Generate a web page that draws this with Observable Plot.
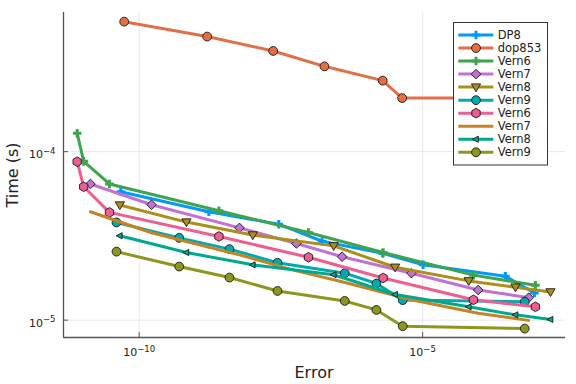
<!DOCTYPE html>
<html><head><meta charset="utf-8">
<script src="https://cdn.jsdelivr.net/npm/d3@7"></script>
<script src="https://cdn.jsdelivr.net/npm/@observablehq/plot@0.6"></script>
<style>body{margin:0;background:#fff}</style>
</head><body><div id="chart"></div>
<script>
// ---- data ----
const names  = ["DP8","dop853","Vern6","Vern7","Vern8","Vern9","Vern6","Vern7","Vern8","Vern9"];
const colors = ["#009AFA","#E36F47","#3EA44E","#C371D2","#AC8E18","#00AAAE","#ED5E93","#C68225","#00A98D","#8E971D"];
const markers = ["plus","circle","plus","diamond","tridown","circle","hexagon","none","trileft","circle"];

const errDP8    = [4.74e-11,1.69e-9,2.90e-8,1.69e-7,1.98e-6,1.02e-5,2.88e-4,9.38e-4];
const timeDP8   = [5.78e-5,4.40e-5,3.71e-5,2.94e-5,2.49e-5,2.13e-5,1.82e-5,1.45e-5];
const errDop853 = [5.44e-11,1.58e-9,2.31e-8,1.85e-7,1.98e-6,4.35e-6,2.88e-4];
const timeDop853= [5.91e-4,4.82e-4,3.96e-4,3.21e-4,2.64e-4,2.08e-4,2.08e-4];
const errVern6  = [8.06e-12,1.05e-11,2.99e-11,2.55e-9,9.68e-8,2.01e-6,7.87e-5,9.75e-4];
const timeVern6a= [1.284e-4,8.76e-5,6.43e-5,4.46e-5,3.31e-5,2.52e-5,1.85e-5,1.61e-5];
const timeVern6b= [8.72e-5,6.19e-5,4.36e-5,3.14e-5,2.36e-5,1.78e-5,1.32e-5,1.20e-5];
const errVern7  = [1.38e-11,1.65e-10,5.87e-9,5.94e-8,3.80e-7,6.34e-6,9.53e-5,7.43e-4];
const timeVern7a= [6.43e-5,4.84e-5,3.53e-5,2.85e-5,2.38e-5,1.90e-5,1.51e-5,1.36e-5];
const timeVern7b= [4.40e-5,3.30e-5,2.44e-5,1.96e-5,1.69e-5,1.32e-5,1.10e-5,9.97e-6];
const errVern8  = [4.55e-11,6.82e-10,1.01e-8,2.70e-7,3.27e-6,6.50e-5,4.34e-4,1.80e-3];
const timeVern8a= [4.82e-5,3.82e-5,3.20e-5,2.76e-5,2.06e-5,1.71e-5,1.57e-5,1.47e-5];
const timeVern8b= [3.17e-5,2.52e-5,2.13e-5,1.86e-5,1.42e-5,1.20e-5,1.075e-5,1.01e-5];
const errVern9  = [3.98e-11,5.08e-10,3.91e-9,2.75e-8,4.23e-7,1.53e-6,4.46e-6,6.33e-4];
const timeVern9a= [3.80e-5,3.08e-5,2.64e-5,2.19e-5,1.90e-5,1.65e-5,1.315e-5,1.285e-5];
const timeVern9b= [2.55e-5,2.08e-5,1.79e-5,1.49e-5,1.30e-5,1.15e-5,9.21e-6,8.91e-6];

const xTicks = [1e-10, 1e-5];
const yTicks = [1e-5, 1e-4];
const xDomain = [10**-11.335, 10**-2.48];
const yDomain = [10**-5.103, 10**-3.174];

const errs  = [errDP8,errDop853,errVern6,errVern7,errVern8,errVern9,errVern6,errVern7,errVern8,errVern9];
const times = [timeDP8,timeDop853,timeVern6a,timeVern7a,timeVern8a,timeVern9a,timeVern6b,timeVern7b,timeVern8b,timeVern9b];

// ---- symbols ----
const H = s => Math.sqrt(s / Math.PI);
const symPlus = {draw(c, s){const h=H(s); c.moveTo(-h,0); c.lineTo(h,0); c.moveTo(0,-h); c.lineTo(0,h);}};
const symDiamond = {draw(c, s){const h=H(s); c.moveTo(0,-h); c.lineTo(h,0); c.lineTo(0,h); c.lineTo(-h,0); c.closePath();}};
const symTriDown = {draw(c, s){const h=H(s); c.moveTo(-h,-h*0.7); c.lineTo(h,-h*0.7); c.lineTo(0,h); c.closePath();}};
const symTriLeft = {draw(c, s){const h=H(s); c.moveTo(-h,0); c.lineTo(h*0.65,-h*0.85); c.lineTo(h*0.65,h*0.85); c.closePath();}};
const symHex = {draw(c, s){const h=H(s); for(let k=0;k<6;k++){const a=Math.PI/6+k*Math.PI/3; const x=h*Math.cos(a), y=h*Math.sin(a); k?c.lineTo(x,y):c.moveTo(x,y);} c.closePath();}};
const symCircle = {draw(c, s){const h=H(s); c.moveTo(h,0); c.arc(0,0,h,0,2*Math.PI); c.closePath();}};
const symInfo = {
  plus:    {sym: symPlus, r: 4.3, stroke: true},
  circle:  {sym: symCircle, r: 4.4},
  diamond: {sym: symDiamond, r: 4.8},
  tridown: {sym: symTriDown, r: 4.6},
  trileft: {sym: symTriLeft, r: 3.6},
  hexagon: {sym: symHex, r: 4.8}
};

const rows = names.map((n,i) => errs[i].map((e,j) => ({i, name:n, err:e, time:times[i][j], color:colors[i]})));

function dotMark(data, m, color) {
  const info = symInfo[m];
  if (!info) return null;
  return info.stroke
    ? Plot.dot(data, {x:"err", y:"time", symbol: info.sym, r: info.r, fill:"none", stroke: color, strokeWidth: 3})
    : Plot.dot(data, {x:"err", y:"time", symbol: info.sym, r: info.r, fill: color, stroke:"#1a1a1a", strokeWidth: 0.9});
}

const tickLen = 5;
const fmt = d => `10^${Math.round(Math.log10(d))}`;
const xPerPx = (Math.log10(xDomain[1]) - Math.log10(xDomain[0])) / (576 - 63 - 11);
const yPerPx = (Math.log10(yDomain[1]) - Math.log10(yDomain[0])) / (384 - 12 - 47);

const plot = Plot.plot({
  width: 576, height: 384,
  marginLeft: 63, marginRight: 11, marginTop: 12, marginBottom: 47,
  style: {fontFamily: "DejaVu Sans", fontSize: "11px", background: "white"},
  x: {type: "log", domain: xDomain, label: null},
  y: {type: "log", domain: yDomain, label: null},
  marks: [
    Plot.ruleX(xTicks, {stroke: "#e8e8e8", strokeWidth: 1}),
    Plot.ruleY(yTicks, {stroke: "#e8e8e8", strokeWidth: 1}),
    Plot.ruleX([xDomain[0]], {stroke: "#555", strokeWidth: 1.3}),
    Plot.ruleY([yDomain[0]], {stroke: "#555", strokeWidth: 1.3}),
    Plot.ruleX(xTicks, {y1: yDomain[0], y2: yDomain[0] * 10 ** (tickLen * yPerPx), stroke: "#555", strokeWidth: 1}),
    Plot.ruleY(yTicks, {x1: xDomain[0], x2: xDomain[0] * 10 ** (tickLen * xPerPx), stroke: "#555", strokeWidth: 1}),
    Plot.axisX(xTicks, {tickSize: 0, tickPadding: 11, tickFormat: fmt, fontSize: 11, fill: "#222"}),
    Plot.axisY(yTicks, {tickSize: 0, tickPadding: 8, tickFormat: fmt, fontSize: 11, dy: 3, fill: "#222"}),
    ...rows.flatMap((data, i) => [
      Plot.line(data, {x:"err", y:"time", stroke: colors[i], strokeWidth: 3, strokeLinejoin: "round"}),
      dotMark(data, markers[i], colors[i])
    ].filter(Boolean))
  ]
});

document.getElementById("chart").appendChild(plot);
const svg = d3.select(plot);

// superscript tick labels
svg.selectAll("text").each(function(){
  const m = /^10\^(.+)$/.exec(this.textContent);
  if (m) {
    const el = d3.select(this);
    el.text(null);
    el.append("tspan").text("10");
    el.append("tspan").attr("dy", "-0.5em").attr("font-size", "8.5px").text(m[1].replace("-", "\u2212"));
  }
});

// axis labels
svg.append("text").attr("x", 314).attr("y", 378).attr("text-anchor", "middle")
  .attr("font-family", "DejaVu Sans").attr("font-size", 16).attr("fill", "#222").text("Error");
svg.append("text").attr("transform", "translate(18,175) rotate(-90)").attr("text-anchor", "middle")
  .attr("font-family", "DejaVu Sans").attr("font-size", 16).attr("fill", "#222").text("Time (s)");

// legend
const lg = svg.append("g").attr("font-family", "DejaVu Sans").attr("font-size", 11.5).attr("text-anchor", "start");
lg.append("rect").attr("x", 453.5).attr("y", 22.5).attr("width", 94).attr("height", 142.5)
  .attr("fill", "white").attr("stroke", "#333").attr("stroke-width", 1);
names.forEach((n, i) => {
  const cy = 35 + i * 13.03;
  lg.append("line").attr("x1", 458.3).attr("x2", 493.3).attr("y1", cy).attr("y2", cy)
    .attr("stroke", colors[i]).attr("stroke-width", 3);
  const info = symInfo[markers[i]];
  if (info) {
    const p = d3.symbol(info.sym, Math.PI * info.r * info.r)();
    const path = lg.append("path").attr("d", p).attr("transform", `translate(476,${cy})`);
    if (info.stroke) path.attr("fill", "none").attr("stroke", colors[i]).attr("stroke-width", 3);
    else path.attr("fill", colors[i]).attr("stroke", "#1a1a1a").attr("stroke-width", 0.9);
  }
  lg.append("text").attr("x", 497.7).attr("y", cy).attr("dy", "0.35em").attr("text-anchor", "start").attr("fill", "#222").text(n);
});
</script>
</body></html>
